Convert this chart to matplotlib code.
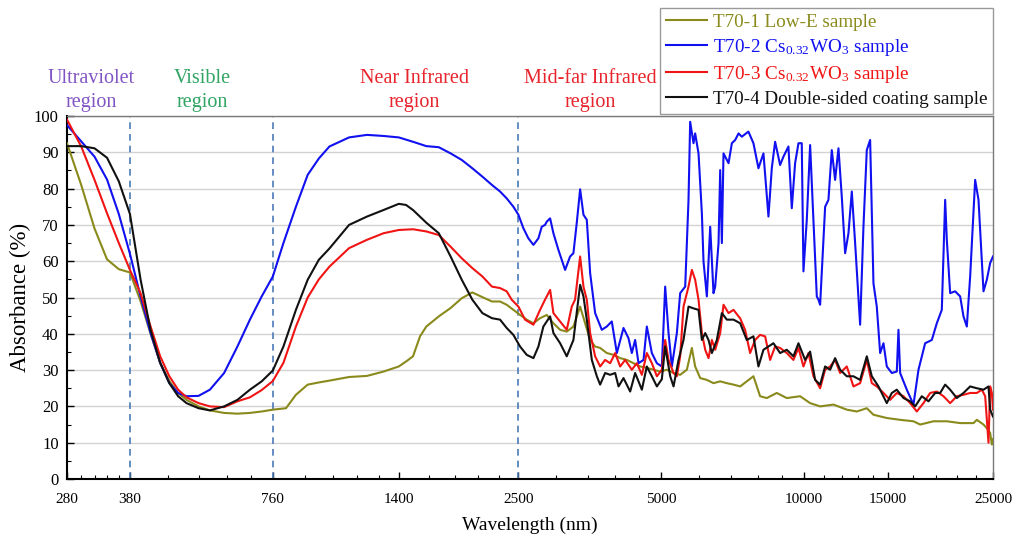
import matplotlib
matplotlib.use('Agg')
import numpy as np
import matplotlib.pyplot as plt
from matplotlib.ticker import FixedLocator, FixedFormatter, NullFormatter, MultipleLocator

plt.rcParams['font.family'] = ['Liberation Serif', 'DejaVu Serif']
plt.rcParams['mathtext.fontset'] = 'stix'

# ---------------- data ----------------
x_ticks = [280, 380, 760, 1400, 2500, 5000, 10000, 15000, 25000]
x_tick_labels = ['280', '380', '760', '1400', '2500', '5000', '10000', '15000', '25000']
region_bounds = [380, 760, 2500]
region_names = ['Ultraviolet\nregion', 'Visible\nregion', 'Near Infrared\nregion', 'Mid-far Infrared\nregion']
region_colors = ['#8155c4', '#2fa463', '#e8242c', '#e8242c']
series_labels = ['T70-1 Low-E sample',
                 r'T70-2 Cs$_\mathregular{0.32}$WO$_\mathregular{3}$ sample',
                 r'T70-3 Cs$_\mathregular{0.32}$WO$_\mathregular{3}$ sample',
                 'T70-4 Double-sided coating sample']
series_colors = ['#8a8a1c', '#1010f0', '#f01414', '#111111']

# T70-1 Low-E
wl_t701 = [280, 300, 320, 340, 360, 380, 400, 420, 440, 460, 480, 500, 530, 560, 600, 640, 680, 720, 760,
           810, 850, 900, 950, 1000, 1100, 1200, 1300, 1400, 1455, 1500, 1552, 1600, 1700, 1800, 1900, 2000,
           2100, 2200,
           2288, 2363, 2441, 2521, 2604, 2690, 2778, 2870, 2964, 3062, 3162, 3266, 3374, 3457, 3542, 3629,
           3718, 3840, 3967, 4097, 4232, 4371, 4515, 4663, 4817, 4975, 5139, 5308, 5482, 5662, 5801, 5895,
           6041, 6239, 6444, 6656, 6875, 7101, 7334, 7572, 7821, 8078, 8344, 8758, 9194, 9808, 10296, 10808,
           11530, 12300, 12912, 13554, 13999, 14935, 15933, 16998, 17557, 18730, 19982, 21318, 22743, 23114,
           23874, 24263, 24658, 24860, 25000]
ab_t701 = [92.5, 81, 69, 60.5, 57.8, 56.9, 49, 40, 32, 27, 23.7, 21.8, 20, 18.9, 18.2, 18, 18.2, 18.6, 19.1,
           19.5, 23.2, 26, 26.6, 27.1, 28.1, 28.4, 29.6, 31, 32.5, 33.8, 39.3, 42, 44.8, 47.1, 49.8, 51.4,
           50.1, 48.9,
           48.9, 48, 46.6, 45.2, 43.9, 42.9, 44.3, 45.2, 42.9, 41.1, 40.6, 42, 47.5, 42.9, 38.3, 36.5,
           36.1, 34.7, 34.2, 33.3, 32.8, 31.9, 31, 30.6, 30.1, 29.6, 30.1, 29.2, 28.7, 30.1, 36.1, 31,
           27.8, 27.3, 26.4, 26.9, 26.4, 26, 25.5, 26.9, 28.3, 22.8, 22.3, 23.7, 22.3, 22.8, 20.9, 20,
           20.5, 19.1, 18.6, 19.5, 17.7, 16.8, 16.3, 15.9, 15, 15.9, 15.9, 15.4, 15.4, 16.3,
           15, 14, 12.7, 9.5, 11]

# T70-2 Cs0.32WO3
wl_t702 = [280, 300, 320, 340, 360, 380, 400, 420, 440, 460, 480, 500, 530, 560, 600, 640, 680, 720, 760,
           800, 850, 900, 950, 1000, 1100, 1200, 1300, 1400, 1500, 1600, 1700, 1800, 1900, 2000, 2100, 2200,
           2288, 2363, 2441, 2501, 2562, 2625, 2690, 2756, 2801, 2846, 2870, 2917, 2964, 3037, 3137, 3214,
           3266, 3319, 3374, 3429, 3485, 3542, 3629, 3748, 3840, 3934, 4032, 4164, 4266, 4336, 4406, 4479,
           4589, 4663, 4778, 4896, 5015, 5097, 5181, 5265, 5394, 5482, 5617, 5708, 5754, 5848, 5895, 5992,
           6090, 6139, 6239, 6341, 6444, 6496, 6603, 6656, 6710, 6764, 6931, 7044, 7159, 7276, 7393, 7633,
           7821, 8013, 8210, 8412, 8549, 8688, 8901, 9046, 9268, 9420, 9573, 9730, 9887, 9968, 10131, 10296,
           10464, 10635, 10721, 10808, 11074, 11253, 11437, 11623, 11814, 12005, 12202, 12400, 12603, 12808,
           13122, 13336, 13554, 13775, 13999, 14227, 14460, 14696, 14935, 15302, 15677, 15805, 15933, 16457,
           16998, 17416, 17989, 18580, 19035, 19503, 19822, 19982, 20308, 20806, 21318, 21665, 22019, 22378,
           22927, 23302, 23681, 23874, 24263, 24658, 25000]
ab_t702 = [97.5, 93, 88.8, 82.5, 73, 62, 50.3, 40.2, 32, 26.4, 23.7, 22.8, 22.9, 24.6, 29.2, 36.5, 43.9, 50.3,
           55.8, 65, 75, 83.8, 88.3, 91.6, 94.1, 94.8, 94.5, 94.1, 92.9, 91.7, 91.4, 89.7, 87.9, 85.6, 83.3, 81,
           79.2, 77.3, 75, 72.8, 69.1, 66.3, 64.5, 66.3, 69.5, 70, 70.9, 71.8, 67.7, 63.1, 57.6, 61.3,
           62.2, 70.5, 79.8, 72.8, 71.4, 56.7, 45.7, 41.1, 42, 43.4, 34.7, 41.6, 38.8, 34.7, 38.3, 31.9,
           32.8, 42, 34.7, 31.9, 31, 53, 40.2, 31, 40.2, 51.2, 53, 76.9, 98.4, 92.5, 95.2, 89.7,
           73.2, 59.9, 50.3, 69.5, 51.2, 53, 65, 85.1, 65, 89.7, 87, 92.5, 93.4, 95.2, 94.3, 95.7,
           92.5, 85.6, 89.7, 72.3, 85.6, 92.9, 86.5, 88.8, 91.6, 74.6, 87, 92.5, 92.5, 57.2, 71.4, 92,
           71.4, 50.3, 49.4, 48, 75, 76.9, 90.6, 82.4, 91.1, 77.8, 62.2, 67.7, 79.2, 65,
           42.5, 69.5, 90.6, 93.4, 53.9, 47.5, 34.7, 37.4, 31, 29.2, 29.6, 41.1, 29.2, 24.6,
           20.5, 30.1, 37.4, 38.3, 42.9, 46.6, 76.9, 65.9, 51.2, 51.7, 50.3, 44.8, 42, 55.8,
           82.4, 76.9, 60.4, 51.7, 54.9, 59.5, 61.3]

# T70-3 Cs0.32WO3
wl_t703 = [280, 300, 320, 340, 360, 380, 400, 420, 440, 460, 480, 500, 530, 560, 600, 640, 680, 720, 760,
           800, 850, 900, 950, 1000, 1100, 1200, 1300, 1400, 1500, 1600, 1700, 1800, 1900, 2000, 2100, 2200,
           2288, 2363, 2421, 2501, 2583, 2690, 2778, 2846, 2917, 2964, 3062, 3162, 3240, 3292, 3374, 3429,
           3485, 3542, 3629, 3718, 3809, 3903, 3999, 4097, 4198, 4336, 4442, 4552, 4663, 4778, 4896, 5015,
           5097, 5181, 5308, 5394, 5482, 5571, 5708, 5801, 5895, 5992, 6090, 6190, 6290, 6393, 6496, 6656,
           6764, 6931, 7101, 7276, 7331, 7511, 7695, 7884, 8078, 8277, 8480, 8688, 8901, 9194, 9496, 9730,
           9968, 10213, 10464, 10808, 11074, 11345, 11623, 11909, 12300, 12705, 13122, 13554, 13887, 14227,
           14696, 15178, 15677, 16193, 16725, 17275, 17843, 18430, 19035, 19661, 20308, 20975, 21665, 22378,
           23114, 23681, 24069, 24460, 24658, 24860, 25000]
ab_t703 = [99, 91.6, 82.4, 73.2, 65, 57.6, 51.2, 42, 33.8, 28.3, 24.6, 22.5, 20.9, 20, 19.8, 21.4, 22.5, 24.5,
           27, 32, 42, 50, 55, 58.5, 63.6, 65.9, 67.7, 68.6, 68.8, 68.2, 67.2, 64, 60.8, 58.1, 55.8, 53,
           52.6, 51.7, 49.4, 47.5, 43.9, 42.5, 46.6, 49.4, 52.1, 45.7, 43.4, 41.1, 47.5, 49.4, 61.3, 53,
           49.4, 40.2, 33.8, 31, 32.8, 31.9, 34.7, 31, 32.8, 30.1, 31.9, 28.7, 34.7, 31.9, 28.3, 30.1,
           38.3, 32.8, 29.2, 28.3, 33.8, 47.5, 53, 57.6, 54.9, 49.4, 40.2, 35.6, 33.3, 38.3, 35.6, 40.2,
           48, 45.7, 46.6, 44.8, 44.3, 41.1, 34.7, 38.3, 39.7, 39.3, 32.8, 36.5, 36.1, 34.7, 32.8, 36.1,
           31, 34.7, 28.3, 25, 30.1, 31, 32.8, 29.2, 31, 25.5, 26.4, 32.8, 26.4, 25.5,
           23.7, 21.8, 23.7, 22.8, 20.9, 18.6, 20.9, 23.7, 24.1, 22.8, 20.9, 22.8, 23.2, 23.7,
           23.7, 24.6, 22.8, 10, 25.5, 23.7, 19.1]

# T70-4 Double-sided coating
wl_t704 = [280, 300, 320, 340, 360, 380, 400, 420, 440, 460, 480, 500, 530, 560, 600, 640, 680, 720, 760,
           800, 850, 900, 950, 1000, 1100, 1200, 1300, 1400, 1450, 1500, 1600, 1700, 1800, 1900, 2000, 2100,
           2200,
           2288, 2363, 2441, 2521, 2604, 2690, 2756, 2823, 2917, 2964, 3062, 3162, 3266, 3319, 3374, 3429,
           3485, 3571, 3659, 3718, 3809, 3903, 3999, 4065, 4164, 4301, 4406, 4552, 4663, 4778, 4896, 5015,
           5097, 5223, 5308, 5439, 5571, 5708, 5848, 5992, 6090, 6190, 6290, 6393, 6549, 6710, 6875, 7101,
           7334, 7572, 7821, 8013, 8210, 8412, 8618, 8901, 9194, 9496, 9730, 10049, 10296, 10549, 10808,
           11074, 11345, 11623, 11909, 12300, 12705, 13122, 13554, 13887, 14343, 14935, 15302, 15677, 16193,
           16725, 17136, 17699, 18281, 18882, 19346, 19822, 20308, 20975, 21665, 22378, 23114, 23874, 24460,
           24658, 25000]
ab_t704 = [91.7, 91.7, 91.1, 88.5, 82, 73, 55, 41, 32, 26.4, 22.8, 20.9, 19.5, 18.9, 20, 21.8, 24.6, 26.9,
           29.9, 36.5, 46.6, 54.9, 60.4, 63.5, 70, 72.3, 74.1, 75.8, 75.5, 74.1, 70.6, 67.7, 61.3, 54.9, 49.4,
           45.7, 44.3,
           43.9, 41.6, 39.7, 36.5, 34.2, 33.3, 36.5, 42, 44.8, 40.2, 37.4, 33.8, 38.3, 45.7, 53.5, 50.3,
           43.9, 32.8, 28.3, 26, 29.2, 28.7, 29.2, 25.5, 27.8, 24.1, 29.2, 24.6, 31, 28.3, 25.5, 27.5,
           36.5, 28.3, 25.5, 32.8, 38.3, 47.5, 47, 46.6, 38.3, 40.2, 38.3, 34.7, 38.3, 45.7, 43.9, 43.9,
           42.9, 38.3, 39.3, 31, 35.6, 36.5, 37.4, 34.7, 35.6, 33.8, 37.4, 32.8, 35.1, 27.3, 26,
           31, 30.1, 33.3, 30.1, 28.3, 28.3, 27.3, 33.8, 28.3, 25.5, 20.9, 23.7, 24.6, 22.3,
           21.4, 20, 22.8, 21.4, 23.7, 23.7, 26, 24.6, 22.3, 23.7, 25.5, 25, 24.6, 25.5,
           19.1, 17.2]

series_wl = [wl_t701, wl_t702, wl_t703, wl_t704]
series_ab = [ab_t701, ab_t702, ab_t703, ab_t704]

# ---------------- figure ----------------
W, H = 1014, 538
fig = plt.figure(figsize=(W / 100, H / 100), dpi=100)
ax = fig.add_axes([67 / W, 1 - 479 / H, (993 - 67) / W, (479 - 116) / H])

lines = []
for wl, ab, c, lab in zip(series_wl, series_ab, series_colors, series_labels):
    ln, = ax.plot(wl, ab, color=c, lw=1.5, label=lab, zorder=3)
    lines.append(ln)

for xb in region_bounds:
    ax.axvline(xb, color='#4a7ab8', ls=(0, (4, 3)), lw=1.2, zorder=2)

ax.set_xscale('log')
ax.set_xlim(280, 25000)
ax.set_ylim(0, 100)

minor = []
for a, b in zip(x_ticks[:-1], x_ticks[1:]):
    minor.extend(np.linspace(a, b, 6)[1:-1])
ax.xaxis.set_major_locator(FixedLocator(x_ticks))
ax.xaxis.set_major_formatter(FixedFormatter(x_tick_labels))
ax.xaxis.set_minor_locator(FixedLocator(minor))
ax.xaxis.set_minor_formatter(NullFormatter())
ax.yaxis.set_major_locator(MultipleLocator(10))
ax.yaxis.set_minor_locator(MultipleLocator(5))

ax.yaxis.grid(True, which='major', color='#d2d2d2', lw=1.0)
ax.set_axisbelow(True)

ax.tick_params(which='major', direction='in', length=5, width=1, color='black')
ax.tick_params(which='minor', direction='in', length=3, width=0.8)
ax.tick_params(axis='x', which='major', labelsize=11, pad=10)
ax.tick_params(axis='y', which='major', labelsize=12, pad=6)

for s in ['left', 'bottom']:
    ax.spines[s].set_color('black')
    ax.spines[s].set_linewidth(1.5)
for s in ['top', 'right']:
    ax.spines[s].set_color('#7a7a7a')
    ax.spines[s].set_linewidth(1.0)

ax.set_xlabel('Wavelength (nm)', fontsize=14, labelpad=8)
ax.set_ylabel('Absorbance (%)', fontsize=16.5, labelpad=2)

# region labels
region_x = [91, 202, 414, 590]
for xpx, name, col in zip(region_x, region_names, region_colors):
    fig.text(xpx / W, 1 - 90.5 / H, name, color=col, fontsize=14.5, ha='center', va='center',
             linespacing=1.33)

leg = ax.legend(handles=lines, loc='upper right', bbox_to_anchor=(993 / W, 1 - 8 / H),
                bbox_transform=fig.transFigure, borderaxespad=0, fontsize=13.8, frameon=True,
                fancybox=False, edgecolor='#9a9a9a', framealpha=1, borderpad=0.3,
                handlelength=2.15, handletextpad=0.28, labelspacing=0.3)
leg.get_frame().set_linewidth(1.0)
for txt, c in zip(leg.get_texts(), series_colors):
    txt.set_color(c)

fig.savefig('out.png', dpi=100)
